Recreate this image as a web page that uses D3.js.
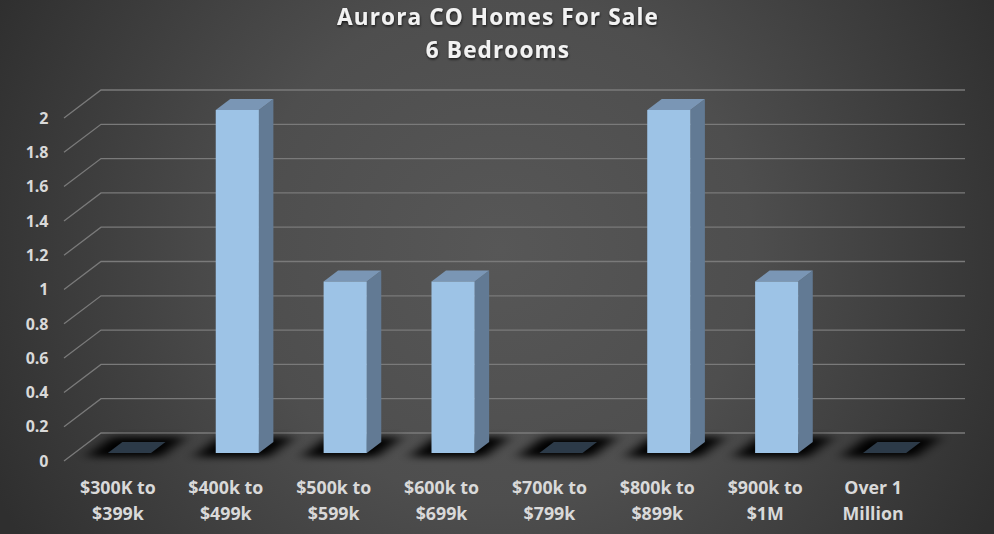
<!DOCTYPE html>
<html><head><meta charset="utf-8">
<script src="https://cdn.jsdelivr.net/npm/d3@7"></script>
<style>html,body{margin:0;padding:0;background:#3a3a3a;overflow:hidden}svg{display:block}text{font-family:"Open Sans",sans-serif;font-weight:700}</style>
</head><body><svg id="c" width="994" height="534"></svg>
<script>
const titleLines = ["Aurora CO Homes For Sale", "6 Bedrooms"];
const categories = [["$300K to","$399k"],["$400k to","$499k"],["$500k to","$599k"],["$600k to","$699k"],["$700k to","$799k"],["$800k to","$899k"],["$900k to","$1M"],["Over 1","Million"]];
const values = [0,2,1,1,0,2,1,0];
const yTicks = [0,0.2,0.4,0.6,0.8,1,1.2,1.4,1.6,1.8,2];

const W = 994, H = 534;
const svg = d3.select("#c");
const defs = svg.append("defs");
const bg = defs.append("radialGradient").attr("id","bg").attr("gradientUnits","userSpaceOnUse")
  .attr("cx",500).attr("cy",250).attr("r",560);
bg.append("stop").attr("offset","0%").attr("stop-color","#575757");
bg.append("stop").attr("offset","45%").attr("stop-color","#4e4e4e");
bg.append("stop").attr("offset","100%").attr("stop-color","#2f2f2f");
const blur = defs.append("filter").attr("id","blur").attr("x","-50%").attr("y","-150%").attr("width","200%").attr("height","400%");
blur.append("feGaussianBlur").attr("stdDeviation","7 3.5");
const ts = defs.append("filter").attr("id","ts").attr("x","-5%").attr("y","-20%").attr("width","110%").attr("height","150%");
ts.append("feDropShadow").attr("dx",0.5).attr("dy",1.5).attr("stdDeviation",1).attr("flood-color","#000").attr("flood-opacity",0.7);
svg.append("rect").attr("width",W).attr("height",H).attr("fill","url(#bg)");

const y = d3.scaleLinear().domain([0,2]).range([453,110]);
const x = d3.scaleBand().domain(d3.range(categories.length)).range([75.5,938.5]).paddingInner(0.6).paddingOuter(0.3);
const back = {dx:37,dy:-28}, frontGrid = {x:64,dy:8};
const barDepth = {dx:14.5,dy:-11};

// gridlines
const grid = svg.append("g").attr("fill","none").attr("stroke","#7a7a7a").attr("stroke-width",1.3);
yTicks.forEach(t=>{
  const yf = y(t)+frontGrid.dy, xb = frontGrid.x+back.dx, yb = yf+back.dy;
  grid.append("path").attr("d",`M${frontGrid.x},${yf}L${xb},${yb}L965,${yb}`);
});

// y labels
svg.append("g").selectAll("text").data(yTicks).join("text")
  .attr("x",48.5).attr("y",d=>y(d)+8).attr("dy","0.36em").attr("text-anchor","end")
  .attr("font-size",16).attr("fill","#d9d9d9").text(d=>d);

// shadows
svg.append("g").selectAll("ellipse").data(values).join("path")
  .attr("filter","url(#blur)").attr("fill","#000").attr("fill-opacity",1)
  .attr("d",(d,i)=>{const a=x(i)-22,b=x(i)+x.bandwidth()+9,yb=457;
    return `M${a},${yb}L${a+26},${yb-20}L${b+26},${yb-20}L${b},${yb}Z`;});

// bars
const bars = svg.append("g").selectAll("g").data(values).join("g");
bars.each(function(d,i){
  const g=d3.select(this), l=x(i), r=l+x.bandwidth(), t=y(d), b=y(0), dx=barDepth.dx, dy=barDepth.dy;
  if(d===0){
    g.append("path").attr("fill","#2c3a48").attr("d",`M${l},${b}L${l+dx},${b+dy}L${r+dx},${b+dy}L${r},${b}Z`);
    return;
  }
  g.append("path").attr("fill","#627a94").attr("d",`M${r},${t}L${r+dx},${t+dy}L${r+dx},${b+dy}L${r},${b}Z`);
  g.append("path").attr("fill","#7a96b5").attr("d",`M${l},${t}L${l+dx},${t+dy}L${r+dx},${t+dy}L${r},${t}Z`);
  g.append("rect").attr("x",l).attr("y",t).attr("width",r-l).attr("height",b-t).attr("fill","#9dc3e6");
});

// x labels
const xl = svg.append("g").attr("text-anchor","middle").attr("font-size",17.8).attr("fill","#d9d9d9");
categories.forEach((lines,i)=>{
  lines.forEach((s,j)=>xl.append("text").attr("x",x(i)+x.bandwidth()/2-11.5).attr("y",494+j*26).text(s));
});

// title
const tt = svg.append("g").attr("text-anchor","middle").attr("font-size",22.6).attr("fill","#f2f2f2").attr("letter-spacing",1.1).attr("filter","url(#ts)");
titleLines.forEach((s,j)=>tt.append("text").attr("x",498).attr("y",25+j*33).text(s));
</script></body></html>
